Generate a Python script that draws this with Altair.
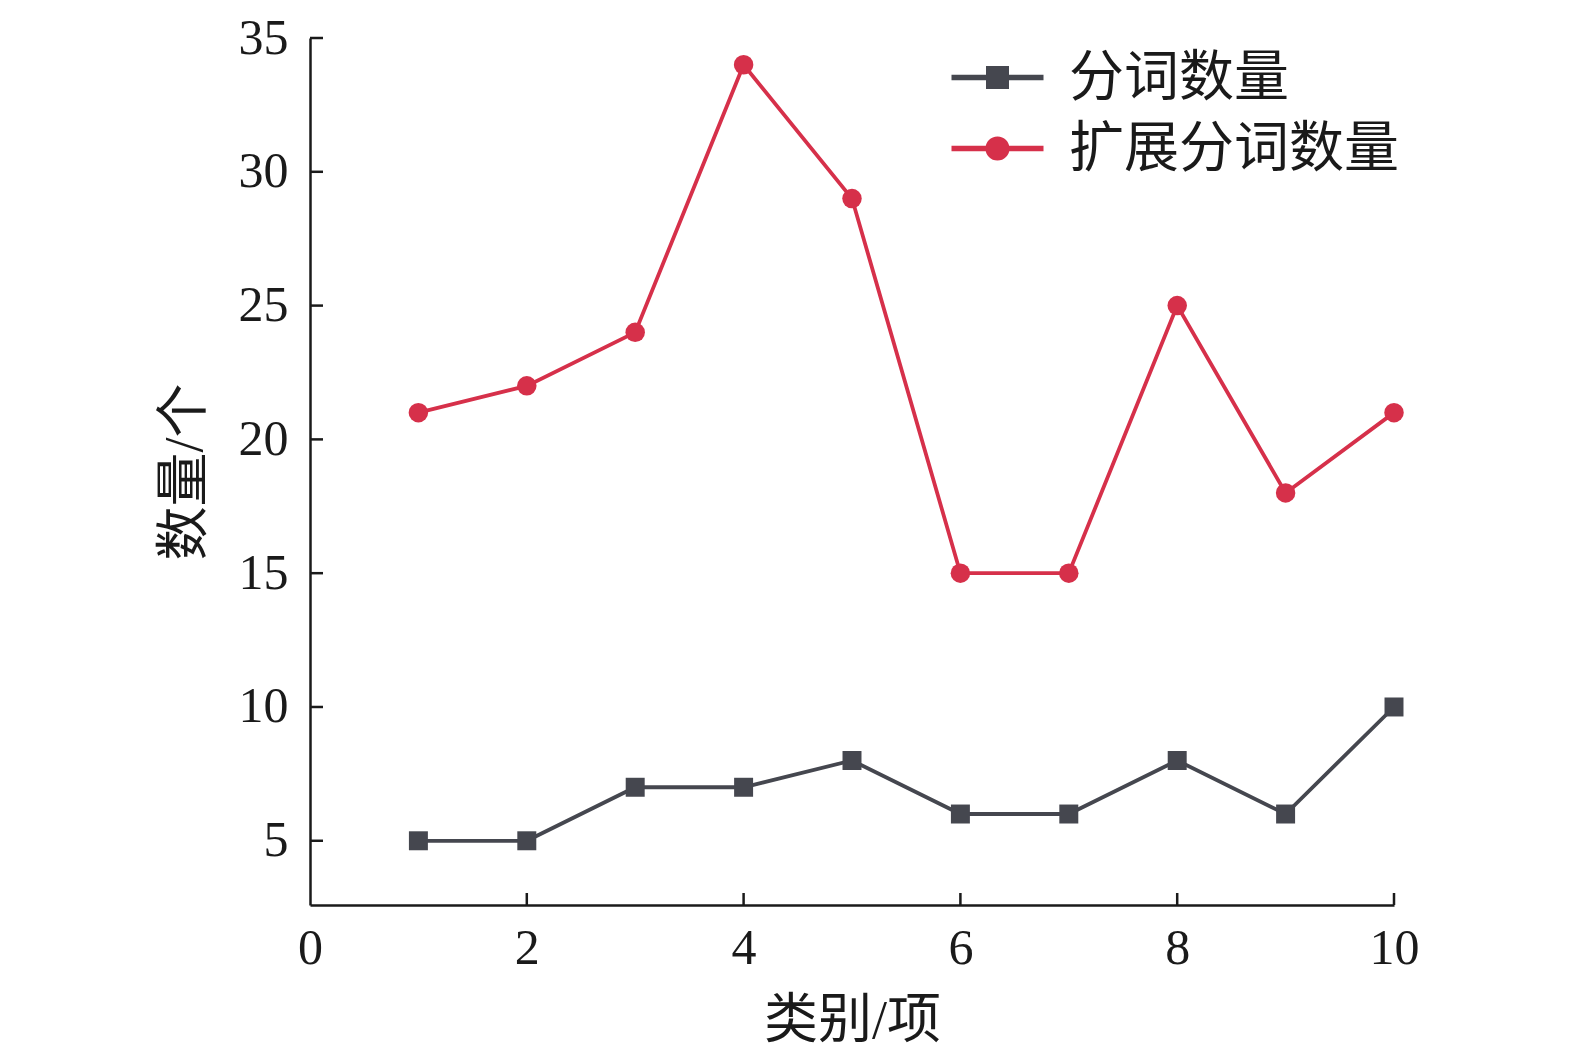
import altair as alt
import pandas as pd

categories = [1, 2, 3, 4, 5, 6, 7, 8, 9, 10]
seg_counts = [5, 5, 7, 7, 8, 6, 6, 8, 6, 10]
ext_counts = [21, 22, 24, 34, 29, 15, 15, 25, 18, 21]
series_names = ["分词数量", "扩展分词数量"]
y_ticks = [5, 10, 15, 20, 25, 30, 35]
x_ticks = [0, 2, 4, 6, 8, 10]

GRAY = "#45474f"
RED = "#d6304a"
FONT = "Liberation Serif, Noto Sans CJK SC"

rows = []
for c, v in zip(categories, seg_counts):
    rows.append({"类别": c, "数量": v, "系列": series_names[0]})
for c, v in zip(categories, ext_counts):
    rows.append({"类别": c, "数量": v, "系列": series_names[1]})
df = pd.DataFrame(rows)

W, H = 1084, 867

xscale = alt.Scale(domain=[0, 10], nice=False, zero=False)
yscale = alt.Scale(domain=[2.6, 35], nice=False, zero=False)
color_scale = alt.Scale(domain=series_names, range=[GRAY, RED])

sq_path = ("M-4,-0.24 L-1,-0.24 L-1,-1 L1,-1 L1,-0.24 L4,-0.24 "
           "L4,0.24 L1,0.24 L1,1 L-1,1 L-1,0.24 L-4,0.24 Z")
ci_path = ("M-4,-0.24 L-0.9,-0.24 L-0.9,0.24 L-4,0.24 Z "
           "M0.9,-0.24 L4,-0.24 L4,0.24 L0.9,0.24 Z "
           "M-1.05,0 A1.05,1.05 0 1,1 1.05,0 A1.05,1.05 0 1,1 -1.05,0 Z")

leg = alt.Legend(orient="none", legendX=660, legendY=12,
                 symbolStrokeWidth=0, symbolSize=529, labelOffset=44,
                 rowPadding=15, labelFontSize=55, symbolOpacity=1,
                 labelFont=FONT, labelColor="#1a1a1a", labelLimit=600)

x_enc = alt.X("类别:Q", scale=xscale,
              axis=alt.Axis(values=x_ticks, title="类别/项", format="d"))
y_enc = alt.Y("数量:Q", scale=yscale,
              axis=alt.Axis(values=y_ticks, title="数量/个", format="d"))

base = alt.Chart(df)

lines = base.mark_line(strokeWidth=3.8).encode(
    x=x_enc, y=y_enc,
    color=alt.Color("系列:N", scale=color_scale, title=None, legend=leg),
)

pts_seg = base.transform_filter(alt.datum["系列"] == series_names[0]).mark_point(
    shape="square", filled=True, opacity=1, size=360, color=GRAY
).encode(x="类别:Q", y="数量:Q")

pts_ext = base.transform_filter(alt.datum["系列"] == series_names[1]).mark_point(
    shape="circle", filled=True, opacity=1, size=380, color=RED
).encode(x="类别:Q", y="数量:Q")

legend_layer = base.transform_filter("false").mark_point(filled=True, opacity=1).encode(
    x="类别:Q", y="数量:Q",
    color=alt.Color("系列:N", scale=color_scale, title=None, legend=leg),
    shape=alt.Shape("系列:N", scale=alt.Scale(domain=series_names, range=[sq_path, ci_path]),
                    title=None, legend=leg),
)

ytick_df = pd.DataFrame({"v": y_ticks})
xtick_df = pd.DataFrame({"v": x_ticks[1:]})

yticks = alt.Chart(ytick_df).mark_rule(color="#1a1a1a", strokeWidth=2.5).encode(
    y=alt.Y("v:Q", scale=yscale), x=alt.value(0), x2=alt.value(13))
xticks = alt.Chart(xtick_df).mark_rule(color="#1a1a1a", strokeWidth=2.5).encode(
    x=alt.X("v:Q", scale=xscale), y=alt.value(H), y2=alt.value(H - 12))

chart = alt.layer(yticks, xticks, lines, pts_seg, pts_ext, legend_layer).properties(
    width=W, height=H,
    padding={"left": 302, "top": 30, "right": 140, "bottom": 145},
    autosize=alt.AutoSizeParams(type="none"),
).configure_view(stroke=None).configure_axis(
    grid=False, domainColor="#1a1a1a", domainWidth=2.5, tickSize=0,
    labelFont=FONT, labelFontSize=50, labelColor="#1a1a1a",
    titleFont=FONT, titleFontSize=54, titleColor="#1a1a1a", titleFontWeight="normal",
).configure_axisY(
    labelPadding=22, titlePadding=26,
).configure_axisX(
    labelPadding=18, titlePadding=21, labelFlush=False,
)

chart.save("out.html", embed_options={"renderer": "svg", "actions": False})
